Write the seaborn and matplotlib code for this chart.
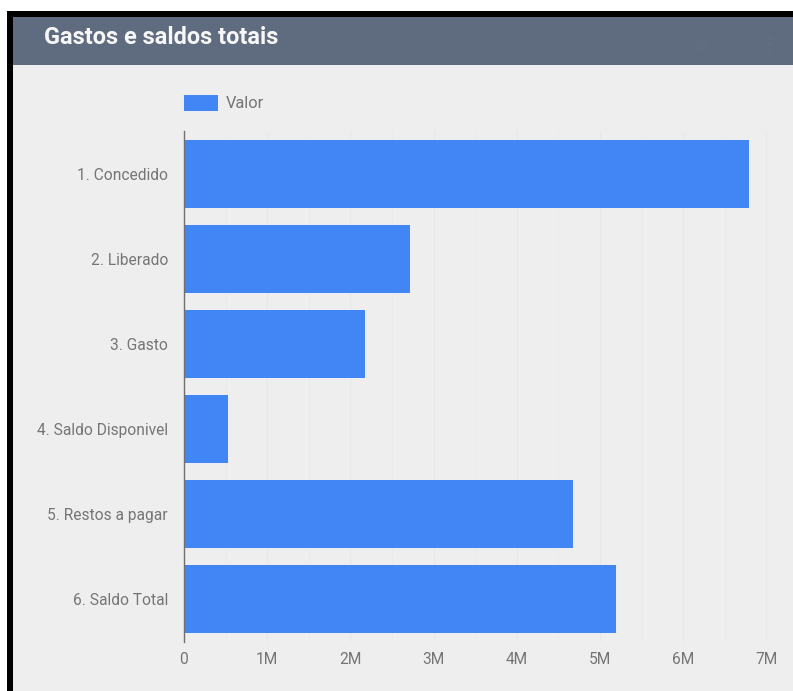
import matplotlib
matplotlib.use("Agg")
import matplotlib.pyplot as plt
from matplotlib.patches import Rectangle
from matplotlib.ticker import FixedLocator
import pandas as pd
import seaborn as sns

categories = ["1. Concedido", "2. Liberado", "3. Gasto", "4. Saldo Disponivel",
              "5. Restos a pagar", "6. Saldo Total"]
values = [6.785e6, 2.72e6, 2.18e6, 0.53e6, 4.68e6, 5.19e6]
major_ticks = [0, 1e6, 2e6, 3e6, 4e6, 5e6, 6e6, 7e6]
major_labels = ["0", "1M", "2M", "3M", "4M", "5M", "6M", "7M"]
minor_ticks = [0.5e6, 1.5e6, 2.5e6, 3.5e6, 4.5e6, 5.5e6, 6.5e6]
title = "Gastos e saldos totais"
series_name = "Valor"

W, H = 793, 691
BG = "#eeeeee"
BLUE = "#4285f4"
GREY = "#757575"

sns.set_theme(style="white")
plt.rcParams["font.family"] = ["Roboto", "DejaVu Sans"]

fig = plt.figure(figsize=(W / 100, H / 100), dpi=100, facecolor="white")


def px_rect(x0, y0, x1, y1, color, z=0):
    """Add a figure-level rectangle given in pixels from the top-left corner."""
    fig.add_artist(Rectangle((x0 / W, 1 - y1 / H), (x1 - x0) / W, (y1 - y0) / H,
                             transform=fig.transFigure, facecolor=color,
                             edgecolor="none", zorder=z))


# Card frame, panel and header band
px_rect(7, 11, W, H, "black", 0)
px_rect(13, 17, W, H, BG, 1)
px_rect(13, 17, W, 65, "#5f6b7e", 2)

ax = fig.add_axes([184 / W, 1 - 642 / H, (766.5 - 184) / W, (642 - 131) / H], zorder=3)
ax.patch.set_alpha(0)

df = pd.DataFrame({"categoria": categories, "valor": values})
sns.barplot(data=df, x="valor", y="categoria", color=BLUE, saturation=1, width=0.8,
            label=series_name, linewidth=0, ax=ax, zorder=3)

ax.set_xlim(0, 7e6)
ax.set_ylim(5.5, -0.5)
ax.set_xlabel("")
ax.set_ylabel("")
ax.xaxis.set_major_locator(FixedLocator(major_ticks))
ax.xaxis.set_minor_locator(FixedLocator(minor_ticks))
ax.set_xticklabels(major_labels)
ax.grid(True, axis="x", which="major", color="#e8e8e8", linewidth=0.8, zorder=1)
ax.grid(True, axis="x", which="minor", color="#eaeaea", linewidth=0.7, zorder=1)
ax.set_axisbelow(True)
ax.tick_params(axis="both", which="both", length=0, labelsize=11.2, labelcolor=GREY)
ax.tick_params(axis="y", pad=11.5)
ax.tick_params(axis="x", pad=7)
for side in ["top", "right", "bottom"]:
    ax.spines[side].set_visible(False)
ax.spines["left"].set_color("#6f6f6f")
ax.spines["left"].set_linewidth(1)
ax.spines["left"].set_zorder(5)

ax.legend(loc="center left", bbox_to_anchor=(184 / W, 1 - 103 / H),
          bbox_transform=fig.transFigure, frameon=False, fontsize=11.8,
          labelcolor=GREY, handlelength=2.08, handleheight=1.2, handletextpad=0.45,
          borderpad=0, borderaxespad=0)

fig.text(44 / W, 1 - 37 / H, title, color="#f7f7f7", fontsize=16.9, fontweight="bold",
         va="center", ha="left", zorder=4)

# Faint header icons
fig.text(702 / W, 1 - 46 / H, "☆", color="#6a7280", fontsize=12, family="DejaVu Sans",
         va="center", ha="center", zorder=4)
fig.text(770 / W, 1 - 45 / H, "⋮", color="#6a7280", fontsize=13, family="DejaVu Sans",
         va="center", ha="center", zorder=4)

fig.savefig("out.png", dpi=100, facecolor=fig.get_facecolor())
